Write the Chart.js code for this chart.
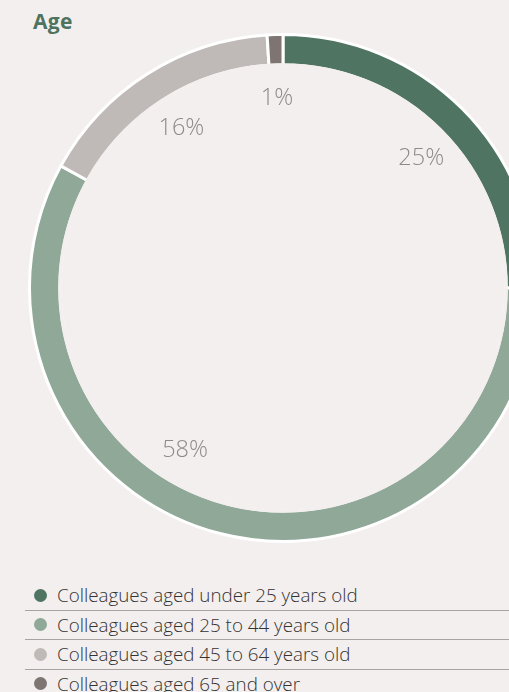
<!DOCTYPE html>
<html>
<head>
<meta charset="utf-8">
<script src="https://cdn.jsdelivr.net/npm/chart.js@4"></script>
<style>
html,body{margin:0;padding:0;width:509px;height:692px;overflow:hidden;background:#f3efee;font-family:"Open Sans",sans-serif;}
#title{position:absolute;left:33px;top:7px;font-size:21px;font-weight:700;color:#4e7360;letter-spacing:0.3px;}
#wrap{position:absolute;left:24px;top:29px;width:518px;height:518px;}
#legend{position:absolute;left:25px;top:581px;width:484px;}
.row{height:28.5px;border-bottom:1px solid #a8a3a2;display:flex;align-items:center;font-size:18.8px;font-weight:300;color:#333333;}
.row:last-child{border-bottom:none;}
.dot{width:13px;height:13px;border-radius:50%;margin-left:9px;margin-right:10px;}
</style>
</head>
<body>
<div id="title">Age</div>
<div id="wrap"><canvas id="c"></canvas></div>
<div id="legend"></div>
<script>
const categories = ["Colleagues aged under 25 years old","Colleagues aged 25 to 44 years old","Colleagues aged 45 to 64 years old","Colleagues aged 65 and over"];
const values = [25, 58, 16, 1];
const valueLabels = ["25%", "58%", "16%", "1%"];
const colors = ["#4f7462", "#8fa898", "#bfbab8", "#7e7472"];
const labelPlacement = [0.52, 0.58, 0.5, 0.5];
const bg = '#f3efee';

const lg = document.getElementById('legend');
categories.forEach((c,i)=>{
  const r = document.createElement('div'); r.className='row';
  const d = document.createElement('div'); d.className='dot'; d.style.background=colors[i];
  const t = document.createElement('span'); t.textContent=c;
  r.appendChild(d); r.appendChild(t); lg.appendChild(r);
});

const labelPlugin = {
  id:'arcLabels',
  afterDatasetsDraw(chart){
    const ctx = chart.ctx;
    const meta = chart.getDatasetMeta(0);
    ctx.save();
    // hide the border on the inner edge of the ring
    const p0 = meta.data[0].getProps(['x','y','innerRadius'], true);
    ctx.beginPath();
    ctx.arc(p0.x, p0.y, p0.innerRadius, 0, Math.PI*2);
    ctx.strokeStyle = bg; ctx.lineWidth = 3.5; ctx.stroke();

    ctx.font = '300 23.5px "Open Sans"';
    ctx.fillStyle = '#8e8a8a';
    ctx.textAlign='center'; ctx.textBaseline='middle';
    meta.data.forEach((arc,i)=>{
      const p = arc.getProps(['x','y','startAngle','endAngle','innerRadius','outerRadius'], true);
      const a = p.startAngle + (p.endAngle-p.startAngle)*labelPlacement[i];
      const r = p.innerRadius*0.85;
      ctx.fillText(valueLabels[i], p.x + Math.cos(a)*r, p.y + Math.sin(a)*r);
    });
    ctx.restore();
  }
};

new Chart(document.getElementById('c'), {
  type:'doughnut',
  data:{labels:categories, datasets:[{data:values, backgroundColor:colors, borderColor:'#ffffff', borderWidth:3}]},
  options:{
    responsive:true, maintainAspectRatio:false, animation:false,
    cutout:'88%',
    layout:{padding:4},
    plugins:{legend:{display:false}, tooltip:{enabled:false}}
  },
  plugins:[labelPlugin]
});
</script>
</body>
</html>
